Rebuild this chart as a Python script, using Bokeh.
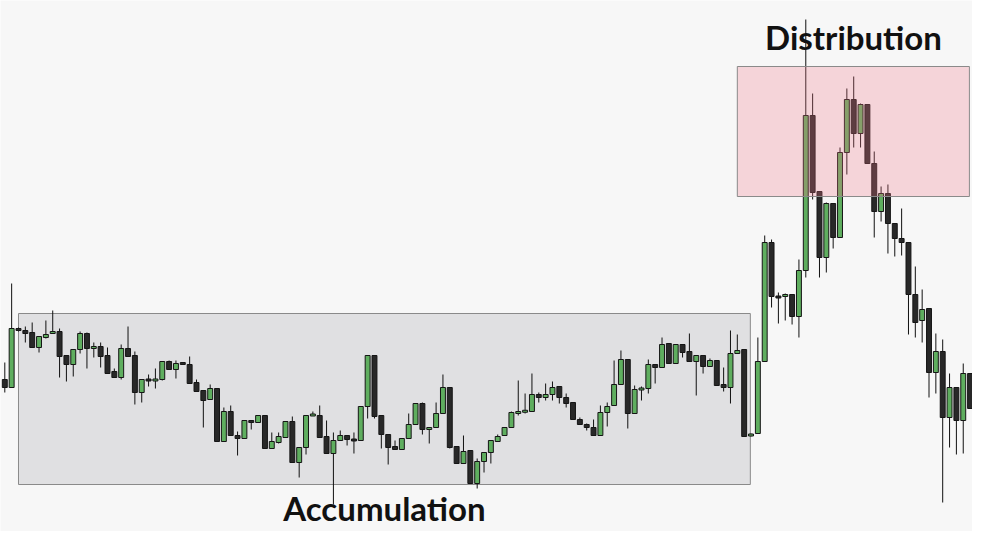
from bokeh.plotting import figure
from bokeh.models import Range1d, ColumnDataSource
from bokeh.core.properties import value
from bokeh.embed import file_html
from bokeh.resources import INLINE

# OHLC values (price units)
opens  = [171,163,222,220,218,203,213,217,219,195,186,201,217,202,204,195,179,173,202,195,
          158,171,170,171,189,181,188,186,168,160,151,162,109,139,115,112,130,128,135,102,
          108,113,129,88,103,135,135,114,97,110,115,111,110,144,195,135,116,104,101,112,
          126,147,121,123,137,163,104,87,100,67,89,98,109,115,123,137,139,139,156,153,
          156,164,153,148,131,126,123,115,138,145,166,191,137,161,162,186,183,207,187,206,
          199,189,195,184,190,166,163,197,201,115,117,189,308,254,254,256,234,280,435,359,
          293,347,313,398,451,417,446,387,339,357,327,312,308,256,230,242,178,199,133,163,
          130,177,142,161,132]
highs  = [188,267,223,224,228,214,230,240,222,195,201,219,218,208,208,203,182,206,224,199,
          171,176,182,189,190,190,188,194,171,160,166,162,143,145,119,130,130,135,135,118,
          118,129,134,103,135,139,145,130,118,120,115,118,144,195,195,135,116,110,112,137,
          147,148,123,148,176,163,104,115,100,92,98,110,116,123,139,170,157,177,158,167,
          169,164,157,148,133,127,131,145,148,190,200,191,165,164,191,186,213,207,206,206,
          217,195,195,192,190,183,220,216,201,117,213,315,311,258,257,256,291,531,457,359,
          348,347,403,462,474,447,446,399,364,366,327,342,308,284,261,242,217,211,177,163,
          187,177,161,161,133]
lows   = [158,163,219,208,203,198,212,217,173,169,174,197,182,193,183,177,173,171,194,146,
          148,164,162,170,181,172,186,167,159,123,151,109,109,115,95,112,121,128,102,102,
          107,113,88,73,96,135,113,97,46,110,105,97,110,132,132,102,86,101,101,112,
          126,116,107,123,137,102,87,87,67,62,78,87,109,115,123,135,137,139,148,150,
          150,147,143,131,126,120,115,115,124,145,166,122,137,150,157,167,183,187,187,193,
          189,155,177,184,165,159,147,197,114,114,117,189,243,227,230,226,213,273,351,273,
          278,302,313,376,403,403,387,313,329,297,294,295,216,213,208,153,157,48,103,96,
          97,142,135,75,130]
closes = [163,222,220,217,203,214,216,219,194,186,201,217,202,204,194,177,173,202,194,158,
          171,170,171,189,181,187,186,167,159,150,162,109,139,115,112,130,128,135,102,109,
          114,129,88,103,135,136,113,97,110,115,111,110,144,195,134,116,103,101,112,126,
          147,121,123,137,163,103,87,99,67,89,98,110,114,123,138,139,139.5,156,153,156,
          163,153,147,131,126,123,115,138,144,166,191,137,161,162,186,183,206,187,206,198,
          189,195,184,190,165,163,197,200,114,116,189,308,254,253,256,234,280,435,358,293,
          347,313,398,451,417,446,387,339,357,327,312,308,256,228,241,178,199,133,163,130,
          177,142,161,132,131]

# annotation zones: (left index, right index, bottom price, top price)
accum_zone = (2.0, 108.9, 66, 237)
distr_zone = (107.0, 140.9, 354, 484)
labels = ["Distribution", "Accumulation"]
label_x = [123.97, 55.46]
label_y = [513.5, 42.5]

n = len(opens)
idx = list(range(n))
tops, bots, fills = [], [], []
for o, c in zip(opens, closes):
    t, b = max(o, c), min(o, c)
    if t - b < 2:
        m = (t + b) / 2
        t, b = m + 1, m - 1
    tops.append(t)
    bots.append(b)
    fills.append("#5fae5f" if c >= o else "#282828")
src = ColumnDataSource(dict(x=idx, top=tops, bottom=bots, high=highs, low=lows, fill=fills))

p = figure(width=972, height=531, output_backend="svg", toolbar_location=None,
           x_range=Range1d((0 - 4.3) / 6.846, (972 - 4.3) / 6.846),
           y_range=Range1d(19, 550), min_border=0)
p.axis.visible = False
p.grid.visible = False
p.outline_line_color = None
p.background_fill_color = "#f7f7f7"
p.border_fill_color = "#f7f7f7"

# accumulation zone (under candles)
p.quad(left=[accum_zone[0]], right=[accum_zone[1]], bottom=[accum_zone[2]], top=[accum_zone[3]],
       fill_color="#e0e0e2", line_color="#8a8a8a", line_width=1)

p.segment(x0="x", x1="x", y0="low", y1="high", source=src, line_color="#111111", line_width=1)
p.vbar(x="x", top="top", bottom="bottom", width=0.72, source=src,
       fill_color="fill", line_color="#151515", line_width=1)

# distribution zone (over candles, translucent)
p.quad(left=[distr_zone[0]], right=[distr_zone[1]], bottom=[distr_zone[2]], top=[distr_zone[3]],
       fill_color="#f0788a", fill_alpha=0.27, line_color="#8a8a8a", line_width=1)

p.text(x=label_x, y=label_y, text=labels, text_font=value("Lato"), text_font_style="bold",
       text_font_size="33px", text_color="#111111", text_align="center", text_baseline="alphabetic")

open("out.html", "w").write(file_html(p, INLINE))
